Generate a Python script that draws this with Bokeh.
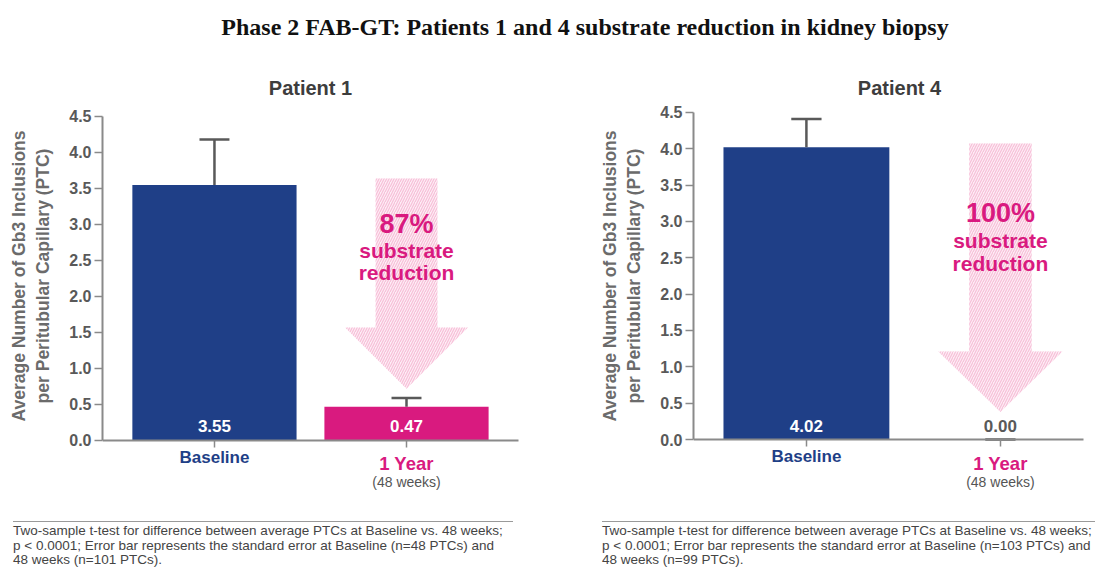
from bokeh.plotting import figure
from bokeh.models import Range1d, FixedTicker, NumeralTickFormatter, Label, Div
from bokeh.layouts import column, row
from bokeh.embed import file_html
from bokeh.resources import INLINE
from bokeh.core.properties import value

# ---------------- data ----------------
main_title = "Phase 2 FAB-GT: Patients 1 and 4 substrate reduction in kidney biopsy"
panel_titles = ["Patient 1", "Patient 4"]
categories = ["Baseline", "1 Year"]
sub_label = "(48 weeks)"
p1_values = [3.55, 0.47]
p1_errors = [0.63, 0.12]
p4_values = [4.02, 0.00]
p4_errors = [0.39, 0.00]
reductions = ["87%", "100%"]
y_ticks = [0.0, 0.5, 1.0, 1.5, 2.0, 2.5, 3.0, 3.5, 4.0, 4.5]
y_label = "Average Number of Gb3 Inclusions\nper Peritubular Capillary (PTC)"
footnotes = [
    ["Two-sample t-test for difference between average PTCs at Baseline vs. 48 weeks;",
     "p < 0.0001; Error bar represents the standard error at Baseline (n=48 PTCs) and",
     "48 weeks (n=101 PTCs)."],
    ["Two-sample t-test for difference between average PTCs at Baseline vs. 48 weeks;",
     "p < 0.0001; Error bar represents the standard error at Baseline (n=103 PTCs) and",
     "48 weeks (n=99 PTCs)."],
]
# arrow shape (data units): top of shaft, base of head, tip
arrow_p1 = [3.64, 1.57, 0.72]
arrow_p4 = [4.07, 1.21, 0.38]

# ---------------- style ----------------
BLUE = "#1f3f87"
MAGENTA = "#d91a7f"
GREY = "#595959"
AXIS = "#8a8a8a"
SANS = "Liberation Sans"


def make_panel(title, vals, errs, reduction, arrow, xr, xbounds, yr, width, border_left,
               label_colors, pos):
    p = figure(width=width, height=463, x_range=Range1d(*xr), y_range=Range1d(*yr),
               output_backend="svg", toolbar_location=None,
               min_border_left=border_left, min_border_right=2,
               min_border_top=4, min_border_bottom=20)
    p.grid.visible = False
    p.outline_line_color = None
    p.background_fill_color = "white"
    p.border_fill_color = "white"

    xs = list(range(len(categories)))

    # arrow
    top, head, tip = arrow
    c, sw, hw = 1.0, 0.161, 0.32
    p.patch([c - sw, c + sw, c + sw, c + hw, c, c - hw, c - sw],
            [top, top, head, head, tip, head, head],
            fill_color="#fdeef5", line_color=None,
            hatch_pattern="/", hatch_color="#f7bfd8", hatch_scale=5, hatch_weight=1.2)

    # bars
    p.vbar(x=xs, top=vals, width=0.855, fill_color=[BLUE, MAGENTA], line_color=None)

    # error bars
    uppers = [v + e for v, e in zip(vals, errs)]
    p.segment(x0=xs, y0=vals, x1=xs, y1=uppers, line_color=GREY, line_width=2.5)
    p.segment(x0=[x - 0.078 for x in xs], y0=uppers, x1=[x + 0.078 for x in xs], y1=uppers,
              line_color=GREY, line_width=2.5)

    # value labels
    p.text(x=xs, y=[0, 0], text=[f"{v:.2f}" for v in vals], y_offset=-14,
           text_align="center", text_baseline="middle", text_font=value(SANS),
           text_font_style="bold", text_font_size="17px", text_color=label_colors)

    def lab(x, y, text, size, color, bold=True):
        p.add_layout(Label(x=x, y=y, text=text, text_align="center", text_baseline="middle",
                           text_font=SANS, text_font_style="bold" if bold else "normal",
                           text_font_size=size, text_color=color))

    # arrow text
    lab(1.0, pos[0], reduction, "27px", MAGENTA)
    lab(1.0, pos[1], "substrate", "21px", MAGENTA)
    lab(1.0, pos[2], "reduction", "21px", MAGENTA)
    # panel title
    lab(pos[3], pos[4], title, "20px", "#3d3d3d")
    # category labels
    lab(0, pos[5], categories[0], "17px", BLUE)
    lab(1, pos[6], categories[1], "18.5px", MAGENTA)
    lab(1, pos[7], sub_label, "14px", "#555555", bold=False)

    # x axis at y = 0
    p.xaxis.fixed_location = 0
    p.xaxis.bounds = xbounds
    p.xaxis.ticker = FixedTicker(ticks=xs)
    p.xaxis.major_label_overrides = {0: "", 1: ""}
    p.xaxis.major_label_standoff = 0
    p.xaxis.axis_line_color = AXIS
    p.xaxis.axis_line_width = 2
    p.xaxis.major_tick_line_color = AXIS
    p.xaxis.major_tick_line_width = 1.5
    p.xaxis.major_tick_out = 7
    p.xaxis.major_tick_in = 0
    p.xaxis.minor_tick_line_color = None

    p.yaxis.bounds = (0, 4.5)
    p.yaxis.ticker = FixedTicker(ticks=y_ticks)
    p.yaxis.formatter = NumeralTickFormatter(format="0.0")
    p.yaxis.axis_line_color = AXIS
    p.yaxis.axis_line_width = 2
    p.yaxis.major_tick_line_color = AXIS
    p.yaxis.major_tick_line_width = 1.5
    p.yaxis.major_tick_out = 8
    p.yaxis.major_tick_in = 0
    p.yaxis.minor_tick_line_color = None
    p.yaxis.major_label_standoff = 3
    p.yaxis.major_label_text_font = SANS
    p.yaxis.major_label_text_font_style = "bold"
    p.yaxis.major_label_text_font_size = "16px"
    p.yaxis.major_label_text_color = GREY
    p.yaxis.axis_label = y_label
    p.yaxis.axis_label_text_font = SANS
    p.yaxis.axis_label_text_font_style = "bold"
    p.yaxis.axis_label_text_font_size = "17.5px"
    p.yaxis.axis_label_text_color = "#6b6b6b"
    p.yaxis.axis_label_standoff = 13
    return p


p1 = make_panel(panel_titles[0], p1_values, p1_errors, reductions[0], arrow_p1,
                (-0.583, 1.729), (-0.583, 1.583), (-0.764, 5.333), 548, 102,
                ["white", "white"],
                [3.01, 2.64, 2.33, 0.5, 4.89, -0.236, -0.32, -0.58])
p4 = make_panel(panel_titles[1], p4_values, p4_errors, reductions[1], arrow_p4,
                (-0.582, 1.485), (-0.582, 1.428), (-0.770, 5.268), 548, 145,
                ["white", GREY],
                [3.11, 2.74, 2.42, 0.48, 4.83, -0.24, -0.33, -0.59])

title_div = Div(text=(
    "<div style=\"font-family:'Liberation Serif','Times New Roman',serif;font-weight:bold;"
    "font-size:24px;line-height:26px;color:#111;text-align:center;padding-top:14px;"
    "margin-left:74px;width:1022px;white-space:nowrap;\">" + main_title + "</div>"),
    width=1096, height=52, margin=0)


def foot_div(lines, ml, w, total_w):
    return Div(text=(
        "<div style=\"overflow:hidden;height:53px;width:%dpx;\">"
        "<div style=\"margin-left:%dpx;margin-top:6px;width:%dpx;border-top:1px solid #9a9a9a;\">"
        "<div style=\"padding-top:2px;font-family:'Liberation Sans',Arial,sans-serif;"
        "font-size:13.5px;line-height:14.5px;color:#444;white-space:nowrap;\">%s</div></div></div>"
        % (total_w, ml, w, "<br>".join(lines))), width=total_w, height=53, margin=0)


fn1 = foot_div(footnotes[0], 13, 500, 548)
fn2 = foot_div(footnotes[1], 54, 493, 548)

layout = column(title_div, row(p1, p4), row(fn1, fn2))
open("out.html", "w").write(file_html(layout, INLINE))
